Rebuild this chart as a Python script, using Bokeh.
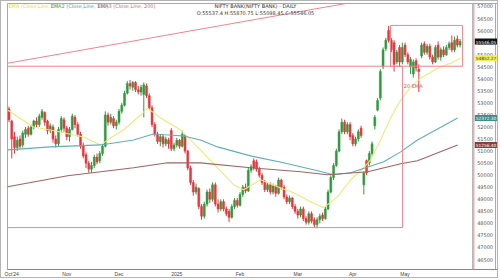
from bokeh.plotting import figure
from bokeh.models import FixedTicker, Label, Span, ColumnDataSource, Range1d
from bokeh.embed import file_html
from bokeh.resources import INLINE
from bokeh.core.properties import value

opens = [52750,52250,51600,51150,51500,51250,51700,51950,51700,52000,52250,52100,52400,52600,52250,51850,52000,51500,51300,51900,
         52300,51950,51600,51900,52400,52100,51700,51250,50850,50500,50250,50400,50750,50600,50900,51200,52500,52200,52350,52050,
         52200,52650,52900,53400,53800,53650,53850,53550,53450,53350,53700,53300,52800,52100,51700,51400,51600,51300,51450,51850,
         51100,51250,51450,51200,51650,51000,50300,49700,49300,49450,48700,48300,48800,49300,49000,49600,48800,48600,48900,48600,
         48500,48250,48700,48950,48750,49200,49500,49350,50200,50600,50550,50250,50000,49700,49400,49600,49300,49550,49250,49800,
         49500,49100,48900,49050,48700,48500,48350,48600,48200,48050,48400,48150,47950,48150,48350,48200,48600,49300,49900,50400,
         51000,51800,52200,51800,52100,51650,51300,51500,51950,49600,50600,50500,50900,52050,52700,53200,54500,55250,56000,55600,
         55500,54700,55300,54700,55400,55000,54500,54200,54750,54400,54950,55450,55100,55350,54900,54700,55400,54900,55200,55000,
         55300,55500,55200,55650,55400]
highs = [52850,52300,51800,51600,51650,51850,52000,52050,52100,52300,52400,52550,52750,52650,52300,52150,52100,51650,52000,52450,
         52400,52050,52000,52550,52500,52200,51800,51350,50950,50600,50550,50850,50900,51000,51300,52650,52600,52550,52450,52300,
         52750,53000,53500,53900,53950,53900,53900,53700,53750,53850,53800,53400,52900,52200,51800,51700,51700,51600,51550,51950,
         51350,51550,51500,51850,51700,51050,50400,49800,49650,49500,48800,48900,49400,49450,49700,49700,49000,49000,49000,48700,
         48600,48800,49050,49050,49300,49600,49650,50300,50450,50700,50650,50350,50100,49800,49700,49700,49650,49600,49900,49850,
         49600,49200,49150,49100,48800,48600,48700,48700,48300,48500,48500,48250,48250,48400,48450,48700,49400,50000,50500,51100,
         51900,52350,52300,52200,52200,51750,51600,51900,52050,50150,50650,51000,51400,52500,53200,54400,55300,55700,56200,55700,
         55600,55200,55400,55500,55500,55100,54900,54800,54850,54600,55500,55550,55450,55450,55000,55400,55550,55300,55350,55400,
         55550,55800,55750,55800,55650]
lows = [52200,50700,50900,51000,51100,51150,51550,51600,51650,51900,52000,52000,52300,52050,51700,51750,51350,51150,51200,51800,
        51800,51450,51400,51850,51950,51600,51100,50700,50300,50100,50100,50300,50450,50500,50800,51150,52050,52100,51950,51900,
        52100,52550,52850,53350,53550,53500,53450,53350,53300,52400,53200,52700,52000,51600,51300,51200,51150,51200,51100,51000,
        51000,51150,51100,51150,50900,50200,49600,49150,49200,48600,48150,48200,48700,48850,48900,48700,48450,48500,48500,48300,
        48050,48200,48600,48650,48700,49100,49250,49300,50100,50200,50150,49900,49600,49300,49300,49200,49200,49100,49200,49400,
        49000,48800,48800,48600,48400,48200,48250,48100,47950,47950,48000,47850,47800,48000,48100,48150,48550,49250,49800,50350,
        50950,51700,51700,51700,51450,51200,51200,51400,51550,49200,50000,50400,50800,51900,52650,53100,54400,55150,55500,55100,
        54300,54600,54500,54600,54900,54600,54200,54050,54300,53450,54850,55000,55000,54800,54600,54650,54800,54750,54900,54950,
        55200,55100,55100,55300,55300]
closes = [52300,51500,51150,51450,51200,51750,51900,51700,52000,52250,52100,52450,52650,52200,51850,52050,51500,51300,51900,52350,
          51950,51600,51900,52450,52100,51700,51200,50800,50500,50250,50400,50750,50550,50900,51200,52500,52200,52400,52050,52200,
          52650,52900,53400,53800,53700,53850,53550,53450,53650,53750,53300,52800,52100,51700,51400,51600,51300,51500,51300,51100,
          51250,51450,51200,51700,51000,50300,49700,49300,49500,48700,48300,48800,49300,49000,49600,48800,48600,48900,48600,48400,
          48250,48700,48950,48750,49200,49500,49350,50200,50350,50300,50250,50000,49700,49400,49600,49300,49550,49250,49800,49500,
          49100,48900,49050,48700,48500,48350,48600,48200,48050,48400,48100,47950,48150,48300,48200,48600,49300,49900,50400,51000,
          51800,52200,51800,52100,51600,51300,51500,51800,51650,50100,50100,50900,51300,52400,53100,54300,55200,55600,55600,55200,
          54600,55100,54700,55300,55000,54700,54800,54700,54450,54300,55400,55100,55350,54900,54700,55300,54900,55200,55000,55300,
          55450,55200,55600,55400,55546]

# month labels (candle index -> text)
tick_idx = [1, 21, 40, 61, 84, 105, 125, 144]
tick_text = ["Oct'24", "Nov", "Dec", "2025", "Feb", "Mar", "Apr", "May"]

# price scale labels
price_ticks = [46500, 47000, 47500, 48000, 48500, 49000, 49500, 50000, 50500, 51000, 51500,
               52000, 52500, 53000, 53500, 54000, 54500, 55000, 55500, 56000, 56500, 57000]

# EMA lines read at sample candle positions
ema20_x = [-0.55, 8.9, 15.1, 27.1, 33.3, 36.9, 41.6, 47.8, 50.4, 55.1, 62.4, 69.6, 75.8, 81.6, 85.3, 91.5,
           97.6, 103.5, 109.6, 114.4, 119.5, 124.2, 128.9, 131.5, 135.1, 138.7, 142.4, 146.0, 149.6, 155.8, 160.5, 164.2]
ema20_y = [52703, 52000, 51876, 51587, 51256, 51546, 51876, 52496, 52785, 52372, 51876, 51050, 50306, 49604, 49397, 49810,
           49521, 49273, 48901, 48653, 49108, 49810, 50306, 50637, 51463, 52372, 53116, 53653, 54025, 54438, 54645, 54852]
ema100_x = [-0.55, 15.1, 33.3, 45.3, 52.5, 63.5, 69.6, 75.8, 87.8, 99.8, 112.2, 118.0, 124.2, 136.2, 142.4, 148.5, 163.1]
ema100_y = [51050, 51174, 51256, 51463, 51711, 51628, 51463, 51174, 50802, 50513, 50182, 50017, 50100, 50554, 50967, 51463, 52372]
ema200_x = [-0.55, 21.3, 45.3, 57.6, 69.6, 87.8, 106.0, 115.8, 130.4, 142.4, 148.5, 163.1]
ema200_y = [49521, 49976, 50306, 50513, 50513, 50306, 50141, 50017, 50141, 50472, 50596, 51256]

# drawing objects
big_box = dict(left=-5, right=143.1, top=54521, bottom=47827)
small_box = dict(left=138.7, right=164.9, top=56215, bottom=54521)
trend_x = [-0.55, 130]
trend_y = [54645, 57277]

last_close = 55546.05
ema_last = [54852.27, 52372.30, 51256.40]

GREEN = "#2f9a3f"
RED = "#e8363c"
PINK = "#f2838c"
SCALE_X = 168.9   # right edge of the candle pane (index units)

p = figure(width=498, height=278, output_backend="svg", toolbar_location=None,
           x_range=Range1d(-0.55, 177.6), y_range=Range1d(46087, 57124),
           min_border_left=6, min_border_right=2, min_border_top=2, min_border_bottom=8)
p.styles = {"border": "1px solid #b4b4b4"}
p.background_fill_color = "white"
p.border_fill_color = "white"
p.outline_line_color = "#a8a8a8"
p.xgrid.visible = False
p.ygrid.visible = False
p.yaxis.visible = False

idx = list(range(len(closes)))
colors = [GREEN if c >= o else RED for o, c in zip(opens, closes)]
src = ColumnDataSource(dict(x=idx, o=opens, h=highs, l=lows, c=closes, col=colors,
                            top=[max(o, c) for o, c in zip(opens, closes)],
                            bot=[min(o, c) for o, c in zip(opens, closes)]))
p.segment(x0="x", y0="h", x1="x", y1="l", color="col", line_width=1, source=src)
p.vbar(x="x", width=0.72, top="top", bottom="bot", fill_color="col", line_color="col", line_width=0.5, source=src)

p.line(ema20_x, ema20_y, color="#efe979", line_width=1.1)
p.line(ema100_x, ema100_y, color="#5fb1b1", line_width=1.1)
p.line(ema200_x, ema200_y, color="#a06464", line_width=1.1)

p.quad(left=[big_box["left"], small_box["left"]], right=[big_box["right"], small_box["right"]],
       top=[big_box["top"], small_box["top"]], bottom=[big_box["bottom"], small_box["bottom"]],
       fill_alpha=0, line_color=PINK, line_width=1)
p.line(trend_x, trend_y, color=PINK, line_width=1)

# price scale separator lines
p.add_layout(Span(location=SCALE_X - 0.35, dimension="height", line_color="#b0b0b0", line_width=1))
p.add_layout(Span(location=SCALE_X + 0.1, dimension="height", line_color=PINK, line_width=1))
p.add_layout(Span(location=176.9, dimension="height", line_color=PINK, line_width=1))

# price scale labels
p.text(x=[SCALE_X + 1.3] * len(price_ticks), y=price_ticks, text=[str(t) for t in price_ticks],
       text_font_size="5px", text_color="#555555", text_baseline="middle",
       text_font=value("DejaVu Sans"))

# texts
p.add_layout(Label(x=143.5, y=53690, text="20 EMA", text_font_size="5px", text_color="#e0505e",
                   text_baseline="middle", text_font="DejaVu Sans"))
legend_items = [(-0.2, "EMA (Close,Line, 20)", "#e3dc2a"),
                (15.1, "EMA2 (Close,Line, 100)", "#45a3a3"),
                (32.2, "EMA3 (Close,Line, 200)", "#b47272")]
for lx, t, col in legend_items:
    p.add_layout(Label(x=lx, y=57000, text=t, text_font_size="5px", text_color=col,
                       text_baseline="middle", text_font="DejaVu Sans"))
p.add_layout(Label(x=89.6, y=57000, text="NIFTY BANK(NIFTY BANK) - DAILY", text_font_size="5px",
                   text_color="#333333", text_align="center", text_baseline="middle", text_font="DejaVu Sans"))
p.add_layout(Label(x=89.6, y=56711, text="O:55537.4 H:55870.75 L:55098.45 C:55546.05", text_font_size="5px",
                   text_color="#333333", text_align="center", text_baseline="middle", text_font="DejaVu Sans"))

# right price boxes
box_specs = [(last_close, "%.2f" % last_close, "#111111", "white"),
             (ema_last[0], "%.2f" % ema_last[0], "#f3ee55", "#333333"),
             (ema_last[1], "%.2f" % ema_last[1], "#3d8c8c", "white"),
             (ema_last[2], "%.2f" % ema_last[2], "#8a3c3c", "white")]
for py, t, bg, fg in box_specs:
    p.add_layout(Label(x=SCALE_X + 0.45, y=py, text=t, text_font_size="4.3px", text_color=fg,
                       background_fill_color=bg, text_baseline="middle", text_font="DejaVu Sans",
                       padding=1))

# time axis
p.xaxis.ticker = FixedTicker(ticks=tick_idx)
p.xaxis.major_label_overrides = {i: t for i, t in zip(tick_idx, tick_text)}
p.xaxis.major_label_text_font_size = "5px"
p.xaxis.major_label_text_color = "#444444"
p.xaxis.major_tick_out = 0
p.xaxis.major_tick_in = 0
p.xaxis.minor_tick_out = 0
p.xaxis.minor_tick_in = 0
p.xaxis.major_label_standoff = 1
p.xaxis.axis_line_color = "#888888"

open("out.html", "w").write(file_html(p, INLINE))
